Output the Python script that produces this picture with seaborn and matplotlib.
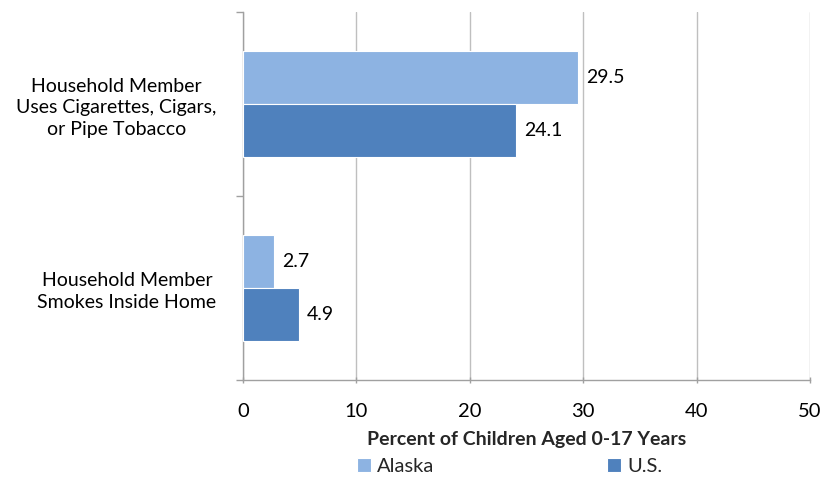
import matplotlib
matplotlib.use("Agg")
import matplotlib.pyplot as plt
import seaborn as sns
import pandas as pd

categories = [
    "Household Member\nUses Cigarettes, Cigars,\nor Pipe Tobacco",
    "Household Member\nSmokes Inside Home",
]
series = ["Alaska", "U.S."]
alaska_values = [29.5, 2.7]
us_values = [24.1, 4.9]
x_ticks = [0, 10, 20, 30, 40, 50]
x_label = "Percent of Children Aged 0-17 Years"
colors = ["#8DB3E2", "#4F81BD"]

df = pd.DataFrame({
    "category": categories * 2,
    "series": [series[0]] * 2 + [series[1]] * 2,
    "value": alaska_values + us_values,
})

sns.set_theme(style="white")
plt.rcParams["font.family"] = ["Lato", "DejaVu Sans"]

fig = plt.figure(figsize=(8.33, 4.82), dpi=100)
ax = fig.add_axes([243 / 833, 1 - 380 / 482, (810 - 243) / 833, (380 - 12) / 482])

sns.barplot(data=df, y="category", x="value", hue="series", orient="h",
            palette=colors, saturation=1, width=0.576, edgecolor="white",
            linewidth=0.8, ax=ax, legend=True, zorder=3)

ax.set_xlim(0, 50)
ax.set_ylim(1.5, -0.5)
ax.set_xticks(x_ticks)
ax.set_xticklabels([str(t) for t in x_ticks], fontsize=14.5, color="#000000")
ax.xaxis.grid(True, color="#BFBFBF", linewidth=1, zorder=0)
ax.set_axisbelow(True)

# category separators on the left axis
ax.set_yticks([-0.5, 0.5, 1.5], minor=True)
ax.tick_params(axis="y", which="minor", length=5, color="#A0A0A0", width=1, left=True)
ax.tick_params(axis="y", which="major", length=0, pad=19)
ax.tick_params(axis="x", which="major", length=5, color="#A0A0A0", width=1,
               direction="inout", bottom=True, pad=14)
ax.set_yticklabels(categories, fontsize=14, color="#000000",
                   multialignment="center", linespacing=1.35)

for s in ["top", "right"]:
    ax.spines[s].set_visible(False)
for s in ["left", "bottom"]:
    ax.spines[s].set_color("#A0A0A0")
    ax.spines[s].set_linewidth(1)

ax.set_ylabel("")
ax.set_xlabel(x_label, fontsize=14, fontweight="bold", labelpad=8)

for container in ax.containers:
    ax.bar_label(container, labels=[f"{v:.1f}" for v in container.datavalues],
                 padding=6, fontsize=14, color="#000000")

handles, labels = ax.get_legend_handles_labels()
ax.legend(handles, labels, loc="center", bbox_to_anchor=(0.47, -0.235),
          ncol=2, frameon=False, fontsize=14.5, handlelength=0.7, handleheight=0.7,
          handletextpad=0.3, columnspacing=8.6, borderpad=0)

fig.savefig("out.png", dpi=100)
